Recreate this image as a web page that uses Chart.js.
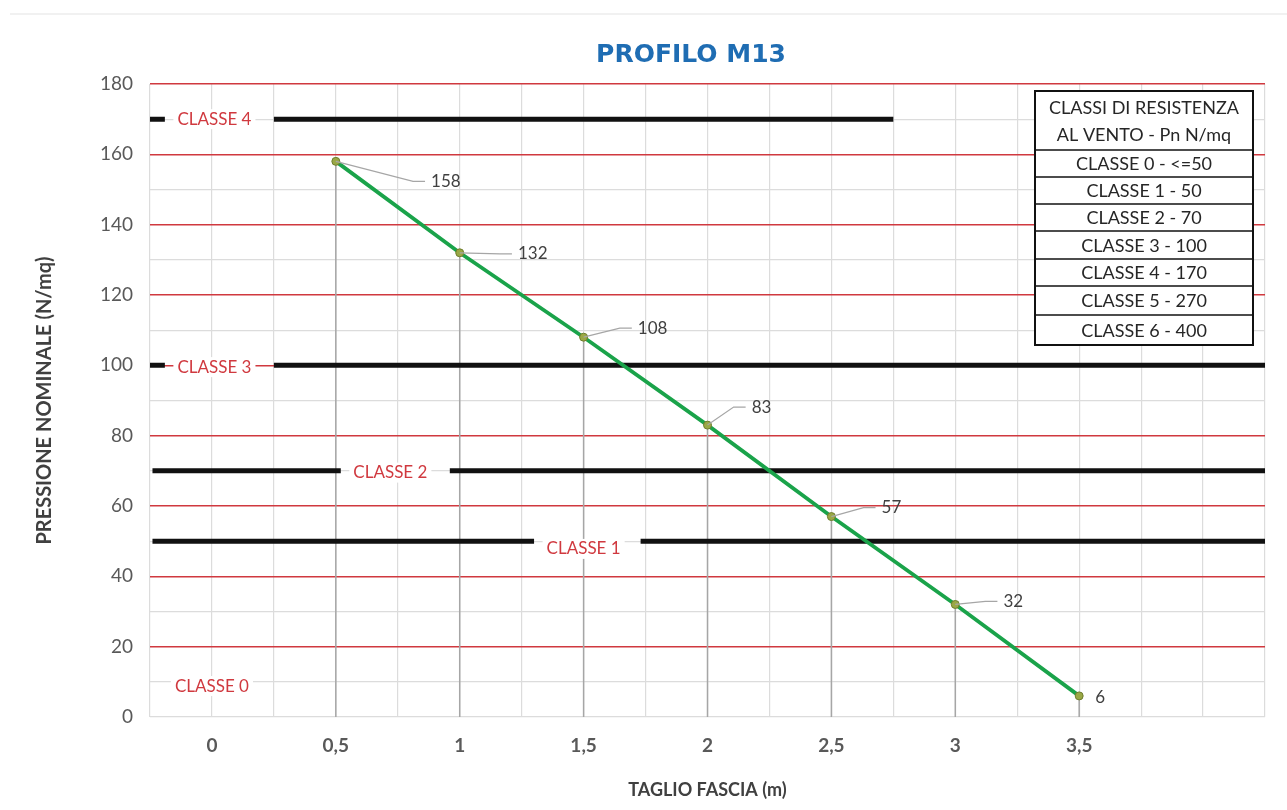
<!DOCTYPE html>
<html>
<head>
<meta charset="utf-8">
<script src="https://cdn.jsdelivr.net/npm/chart.js@4.4.1/dist/chart.umd.min.js"></script>
<style>
  html, body { margin: 0; padding: 0; background: #fff; }
  #wrap { width: 1287px; height: 810px; position: relative; }
</style>
</head>
<body>
<div id="wrap"><canvas id="profiloChart"></canvas></div>
<script>
"use strict";

// taglio fascia (m) / pressione nominale (N/mq)
const taglio = [0.5, 1, 1.5, 2, 2.5, 3, 3.5];
const pressione = [158, 132, 108, 83, 57, 32, 6];

// soglie delle classi e tratti neri (x inizio/fine)
const classLevels = [170, 100, 70, 50];
const classSegments = [
    [[-0.25, -0.19], [0.25, 2.75]],
    [[-0.25, -0.19], [0.25, 4.25]],
    [[-0.24, 0.52], [0.96, 4.25]],
    [[-0.24, 1.30], [1.73, 4.25]]
];
const classNames = ['CLASSE 4', 'CLASSE 3', 'CLASSE 2', 'CLASSE 1', 'CLASSE 0'];
const classLabelX = [0.01, 0.01, 0.72, 1.5, 0];
const classLabelY = [170, 99.5, 69.5, 47.8, 8.8];

const xTickValues = [0, 0.5, 1, 1.5, 2, 2.5, 3, 3.5];
const xTickLabels = ['0', '0,5', '1', '1,5', '2', '2,5', '3', '3,5'];
const yTickValues = [0, 20, 40, 60, 80, 100, 120, 140, 160, 180];

const tableHeader = ['CLASSI DI RESISTENZA', 'AL VENTO - Pn N/mq'];
const tableRows = ['CLASSE 0 - <=50', 'CLASSE 1 - 50', 'CLASSE 2 - 70', 'CLASSE 3 - 100',
    'CLASSE 4 - 170', 'CLASSE 5 - 270', 'CLASSE 6 - 400'];

// pixel offsets of the value labels from their points
const labelOffsets = [[110, 20], [73, 1], [69, -9], [54, -18], [60, -9], [58, -3], [21, 2]];

const FONT = 'Lato, "Open Sans", sans-serif';
const RED = '#d0393f';

const classDatasets = classLevels.map((lvl, i) => {
    const pts = [];
    classSegments[i].forEach((seg, j) => {
        if (j > 0) {
            pts.push({x: (classSegments[i][j - 1][1] + seg[0]) / 2, y: null});
        }
        pts.push({x: seg[0], y: lvl});
        pts.push({x: seg[1], y: lvl});
    });
    return {
        data: pts,
        showLine: true,
        spanGaps: false,
        borderColor: '#111',
        borderWidth: 5,
        pointRadius: 0,
        borderCapStyle: 'butt',
        order: 2
    };
});

const decorPlugin = {
    id: 'decor',
    beforeDatasetsDraw(chart) {
        const {ctx, scales: {x, y}} = chart;
        ctx.save();
        ctx.strokeStyle = '#a6a6a6';
        ctx.lineWidth = 1.5;
        taglio.forEach((t, i) => {
            const px = x.getPixelForValue(t);
            ctx.beginPath();
            ctx.moveTo(px, y.getPixelForValue(pressione[i]));
            ctx.lineTo(px, y.getPixelForValue(0));
            ctx.stroke();
        });
        ctx.restore();
    },
    afterDatasetsDraw(chart) {
        const {ctx, scales: {x, y}} = chart;
        ctx.save();
        // class labels
        ctx.font = '17px ' + FONT;
        ctx.textAlign = 'center';
        ctx.textBaseline = 'middle';
        classNames.forEach((name, i) => {
            const px = x.getPixelForValue(classLabelX[i]);
            const py = y.getPixelForValue(classLabelY[i]);
            const w = ctx.measureText(name).width;
            ctx.fillStyle = '#fff';
            ctx.fillRect(px - w / 2 - 4, py - 10, w + 8, 20);
            ctx.fillStyle = RED;
            ctx.fillText(name, px, py);
        });
        // value labels with leader lines
        ctx.font = '17px ' + FONT;
        pressione.forEach((v, i) => {
            const px = x.getPixelForValue(taglio[i]);
            const py = y.getPixelForValue(v);
            const cx = px + labelOffsets[i][0];
            const cy = py + labelOffsets[i][1];
            const txt = String(v);
            const w = ctx.measureText(txt).width;
            if (labelOffsets[i][0] > 30) {
                const lx = cx - w / 2 - 6;
                ctx.strokeStyle = '#a6a6a6';
                ctx.lineWidth = 1.2;
                ctx.beginPath();
                ctx.moveTo(px, py);
                ctx.lineTo(lx - 12, cy);
                ctx.lineTo(lx, cy);
                ctx.stroke();
            }
            ctx.fillStyle = '#404040';
            ctx.fillText(txt, cx, cy);
        });
        ctx.restore();
    },
    afterDraw(chart) {
        const {ctx} = chart;
        ctx.save();
        // faint frame line at the top of the picture
        ctx.strokeStyle = '#ececec';
        ctx.lineWidth = 1.5;
        ctx.beginPath();
        ctx.moveTo(10, 14);
        ctx.lineTo(1287, 14);
        ctx.stroke();

        // chart title
        ctx.fillStyle = '#1f6db3';
        ctx.font = 'bold 25px "DejaVu Sans", sans-serif';
        ctx.textAlign = 'center';
        ctx.textBaseline = 'middle';
        ctx.fillText('PROFILO M13', 691, 55);

        // resistance class table
        const left = 1035, right = 1253, top = 91, bottom = 345;
        const rowLines = [150, 177, 204, 231, 259, 286, 315];
        ctx.fillStyle = '#fff';
        ctx.fillRect(left, top, right - left, bottom - top);
        ctx.fillStyle = '#262626';
        ctx.font = '18px ' + FONT;
        const cx = (left + right) / 2;
        ctx.fillText(tableHeader[0], cx, 108);
        ctx.fillText(tableHeader[1], cx, 135);
        const ends = rowLines.concat([bottom]);
        tableRows.forEach((r, i) => {
            ctx.fillText(r, cx, (ends[i] + ends[i + 1]) / 2 + 1);
        });
        ctx.strokeStyle = '#111';
        ctx.lineWidth = 1.5;
        rowLines.forEach(ly => {
            ctx.beginPath();
            ctx.moveTo(left, ly);
            ctx.lineTo(right, ly);
            ctx.stroke();
        });
        ctx.lineWidth = 2;
        ctx.strokeRect(left, top, right - left, bottom - top);
        ctx.restore();
    }
};

new Chart(document.getElementById('profiloChart'), {
    type: 'scatter',
    data: {
        datasets: [{
            data: taglio.map((t, i) => ({x: t, y: pressione[i]})),
            showLine: true,
            borderColor: '#1aa34a',
            borderWidth: 3.8,
            pointRadius: 4,
            pointBackgroundColor: '#9aa845',
            pointBorderColor: '#6e7d2e',
            pointBorderWidth: 1,
            order: 1
        }].concat(classDatasets)
    },
    options: {
        responsive: true,
        maintainAspectRatio: false,
        animation: false,
        layout: {padding: {left: 0, right: 22, top: 84, bottom: 0}},
        plugins: {
            legend: {display: false},
            tooltip: {enabled: false},
            title: {display: false}
        },
        scales: {
            x: {
                type: 'linear',
                min: -0.25,
                max: 4.25,
                afterFit: (s) => { s.height = 93; },
                grid: {color: '#dcdcdc', lineWidth: 1.2, drawTicks: false},
                border: {display: false},
                ticks: {
                    stepSize: 0.25,
                    padding: 17,
                    autoSkip: false,
                    maxRotation: 0,
                    color: '#595959',
                    font: {family: FONT, size: 19, weight: 'bold'},
                    callback: (v) => {
                        const k = xTickValues.findIndex(t => Math.abs(t - v) < 1e-6);
                        return k >= 0 ? xTickLabels[k] : '';
                    }
                },
                title: {
                    display: true,
                    text: 'TAGLIO FASCIA (m)',
                    color: '#404040',
                    font: {family: FONT, size: 18, weight: 'bold'},
                    padding: {top: 0, bottom: 9}
                }
            },
            y: {
                min: 0,
                max: 180,
                afterFit: (s) => { s.width = 150; },
                grid: {
                    drawTicks: false,
                    color: (c) => (c.tick.value > 0 && c.tick.value % 20 === 0) ? RED : '#dcdcdc',
                    lineWidth: (c) => (c.tick.value > 0 && c.tick.value % 20 === 0) ? 1.5 : 1.2
                },
                border: {display: false},
                ticks: {
                    stepSize: 10,
                    padding: 17,
                    autoSkip: false,
                    color: '#595959',
                    font: {family: FONT, size: 19},
                    callback: (v) => yTickValues.includes(v) ? String(v) : ''
                },
                title: {
                    display: true,
                    text: 'PRESSIONE NOMINALE (N/mq)',
                    color: '#404040',
                    font: {family: FONT, size: 20, weight: 'bold'},
                    padding: {top: 33, bottom: 0}
                }
            }
        }
    },
    plugins: [decorPlugin]
});
</script>
</body>
</html>
